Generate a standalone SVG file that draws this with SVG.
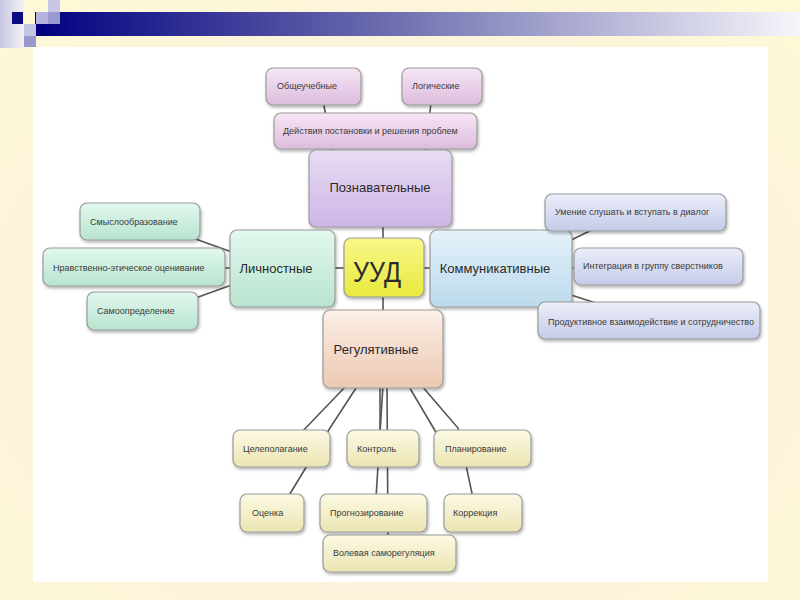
<svg xmlns="http://www.w3.org/2000/svg" width="800" height="600" viewBox="0 0 800 600">
<defs>
<radialGradient id="bg" cx="50%" cy="55%" r="70%">
<stop offset="0" stop-color="#fbeadd"/><stop offset="0.6" stop-color="#fcf2dc"/><stop offset="1" stop-color="#fdf9d6"/>
</radialGradient>
<linearGradient id="bar" x1="0" y1="0" x2="1" y2="0">
<stop offset="0" stop-color="#000080"/><stop offset="0.45" stop-color="#6a6aae"/><stop offset="1" stop-color="#f6f6fb"/>
</linearGradient>
<linearGradient id="strip" x1="0" y1="0" x2="1" y2="0">
<stop offset="0" stop-color="#c8c8e6"/><stop offset="1" stop-color="#f4f2f0"/>
</linearGradient>
<linearGradient id="gPink" x1="0" y1="0" x2="0" y2="1"><stop offset="0" stop-color="#f6e6f6"/><stop offset="1" stop-color="#dcbcdc"/></linearGradient>
<linearGradient id="gPurple" x1="0" y1="0" x2="0" y2="1"><stop offset="0" stop-color="#e8dcf4"/><stop offset="1" stop-color="#cdb6e6"/></linearGradient>
<linearGradient id="gYellow" x1="0" y1="0" x2="0" y2="1"><stop offset="0" stop-color="#f8f88a"/><stop offset="1" stop-color="#e8e83e"/></linearGradient>
<linearGradient id="gGreen" x1="0" y1="0" x2="0" y2="1"><stop offset="0" stop-color="#e2f8ee"/><stop offset="1" stop-color="#b8e4cf"/></linearGradient>
<linearGradient id="gCyan" x1="0" y1="0" x2="0" y2="1"><stop offset="0" stop-color="#e4f2fa"/><stop offset="1" stop-color="#bcdaec"/></linearGradient>
<linearGradient id="gBlue" x1="0" y1="0" x2="0" y2="1"><stop offset="0" stop-color="#eceef9"/><stop offset="1" stop-color="#c4cbe9"/></linearGradient>
<linearGradient id="gPeach" x1="0" y1="0" x2="0" y2="1"><stop offset="0" stop-color="#fcefe6"/><stop offset="1" stop-color="#ecc9b2"/></linearGradient>
<linearGradient id="gCream" x1="0" y1="0" x2="0" y2="1"><stop offset="0" stop-color="#fcfae4"/><stop offset="1" stop-color="#ebe4b2"/></linearGradient>
<filter id="sh" x="-10%" y="-10%" width="120%" height="140%">
<feDropShadow dx="1" dy="2" stdDeviation="1.5" flood-color="#000" flood-opacity="0.3"/>
</filter>
</defs>
<style>
.n{stroke:#9a9a9a;stroke-width:1.2;filter:url(#sh)}
.s{font-family:"Liberation Sans",Arial,sans-serif;font-size:9px;fill:#3a3a3a}
.m{font-family:"Liberation Sans",Arial,sans-serif;font-size:13px;fill:#2a2a2a}
.c{stroke:#555;stroke-width:1.6;fill:none}
</style>
<rect width="800" height="600" fill="url(#bg)"/>
<rect x="0" y="0" width="24" height="48" fill="url(#strip)"/>
<rect x="35" y="12" width="765" height="24" fill="url(#bar)"/>
<rect x="48" y="0" width="12" height="12" fill="#c8c8e6"/>
<rect x="12" y="12" width="11" height="12" fill="#0c0c80"/>
<rect x="36" y="12" width="12" height="12" fill="#b4b4de"/>
<rect x="48" y="12" width="12" height="12" fill="#9a9ad2"/>
<rect x="24" y="24" width="12" height="12" fill="#c4c4e4"/>
<rect x="24" y="36" width="12" height="11" fill="#9898cc"/>
<rect x="33" y="47" width="735" height="535" fill="#ffffff"/>

<g id="connectors">
<line class="c" x1="322" y1="95" x2="334" y2="160"/>
<line class="c" x1="432" y1="95" x2="424" y2="160"/>
<line class="c" x1="383" y1="220" x2="383" y2="245"/>
<line class="c" x1="383" y1="290" x2="383" y2="318"/>
<line class="c" x1="325" y1="268" x2="350" y2="268"/>
<line class="c" x1="418" y1="268" x2="440" y2="268"/>
<line class="c" x1="190" y1="237" x2="240" y2="255"/>
<line class="c" x1="215" y1="268" x2="240" y2="268"/>
<line class="c" x1="190" y1="300" x2="240" y2="282"/>
<line class="c" x1="565" y1="243" x2="600" y2="226"/>
<line class="c" x1="565" y1="268" x2="585" y2="268"/>
<line class="c" x1="565" y1="293" x2="605" y2="306"/>
<line class="c" x1="347" y1="385" x2="298" y2="436"/>
<polyline class="c" points="358,385 330,428 288,497"/>
<line class="c" x1="380" y1="385" x2="380" y2="435"/>
<line class="c" x1="383" y1="385" x2="376" y2="498"/>
<line class="c" x1="387" y1="385" x2="388" y2="540"/>
<line class="c" x1="408" y1="385" x2="437" y2="434"/>
<polyline class="c" points="421,385 458,428 473,498"/>
</g>

<g id="n-obshche"><rect class="n" x="266" y="68" width="95" height="37" rx="7" fill="url(#gPink)"/><text class="s" x="277" y="89">Общеучебные</text></g>
<g id="n-logich"><rect class="n" x="402" y="68" width="80" height="37" rx="7" fill="url(#gPink)"/><text class="s" x="412" y="89">Логические</text></g>
<g id="n-deystv"><rect class="n" x="274" y="113" width="203" height="36" rx="7" fill="url(#gPink)"/><text class="s" x="283" y="134">Действия постановки и решения проблем</text></g>
<g id="n-poznav"><rect class="n" x="309" y="150" width="143" height="77" rx="7" fill="url(#gPurple)"/><text class="m" x="380" y="192" text-anchor="middle">Познавательные</text></g>

<g id="n-uud"><rect class="n" x="344" y="238" width="80" height="59" rx="7" fill="url(#gYellow)"/><text x="377" y="282" text-anchor="middle" font-family="'Liberation Sans',Arial,sans-serif" font-size="30" fill="#2a2a2a" textLength="48" lengthAdjust="spacingAndGlyphs">УУД</text></g>
<g id="n-lichn"><rect class="n" x="230" y="230" width="105" height="77" rx="7" fill="url(#gGreen)"/><text class="m" x="276" y="273" text-anchor="middle">Личностные</text></g>
<g id="n-komm"><rect class="n" x="430" y="230" width="142" height="77" rx="7" fill="url(#gCyan)"/><text class="m" x="495" y="273" text-anchor="middle">Коммуникативные</text></g>
<g id="n-regul"><rect class="n" x="323" y="310" width="120" height="78" rx="7" fill="url(#gPeach)"/><text class="m" x="376" y="354" text-anchor="middle">Регулятивные</text></g>

<g id="n-smysl"><rect class="n" x="80" y="203" width="120" height="37" rx="7" fill="url(#gGreen)"/><text class="s" x="90" y="225">Смыслообразование</text></g>
<g id="n-nravst"><rect class="n" x="43" y="248" width="182" height="38" rx="7" fill="url(#gGreen)"/><text class="s" x="53" y="271">Нравственно-этическое оценивание</text></g>
<g id="n-samoopr"><rect class="n" x="87" y="292" width="111" height="38" rx="7" fill="url(#gGreen)"/><text class="s" x="97" y="314">Самоопределение</text></g>

<g id="n-umenie"><rect class="n" x="545" y="194" width="181" height="37" rx="7" fill="url(#gBlue)"/><text class="s" x="555" y="215">Умение слушать и вступать в диалог</text></g>
<g id="n-integr"><rect class="n" x="574" y="248" width="169" height="37" rx="7" fill="url(#gBlue)"/><text class="s" x="583" y="269">Интеграция в группу сверстников</text></g>
<g id="n-produkt"><rect class="n" x="538" y="302" width="222" height="37" rx="7" fill="url(#gBlue)"/><text class="s" x="548" y="325">Продуктивное взаимодействие и сотрудничество</text></g>

<g id="n-tselep"><rect class="n" x="233" y="430" width="97" height="37" rx="7" fill="url(#gCream)"/><text class="s" x="243" y="452">Целеполагание</text></g>
<g id="n-kontrol"><rect class="n" x="347" y="430" width="72" height="37" rx="7" fill="url(#gCream)"/><text class="s" x="357" y="452">Контроль</text></g>
<g id="n-planir"><rect class="n" x="434" y="430" width="97" height="37" rx="7" fill="url(#gCream)"/><text class="s" x="445" y="452">Планирование</text></g>
<g id="n-otsenka"><rect class="n" x="240" y="494" width="64" height="38" rx="7" fill="url(#gCream)"/><text class="s" x="252" y="516">Оценка</text></g>
<g id="n-prognoz"><rect class="n" x="320" y="494" width="107" height="38" rx="7" fill="url(#gCream)"/><text class="s" x="330" y="516">Прогнозирование</text></g>
<g id="n-korrek"><rect class="n" x="444" y="494" width="78" height="38" rx="7" fill="url(#gCream)"/><text class="s" x="453" y="516">Коррекция</text></g>
<g id="n-volev"><rect class="n" x="323" y="535" width="133" height="37" rx="7" fill="url(#gCream)"/><text class="s" x="333" y="556">Волевая саморегуляция</text></g>
</svg>
